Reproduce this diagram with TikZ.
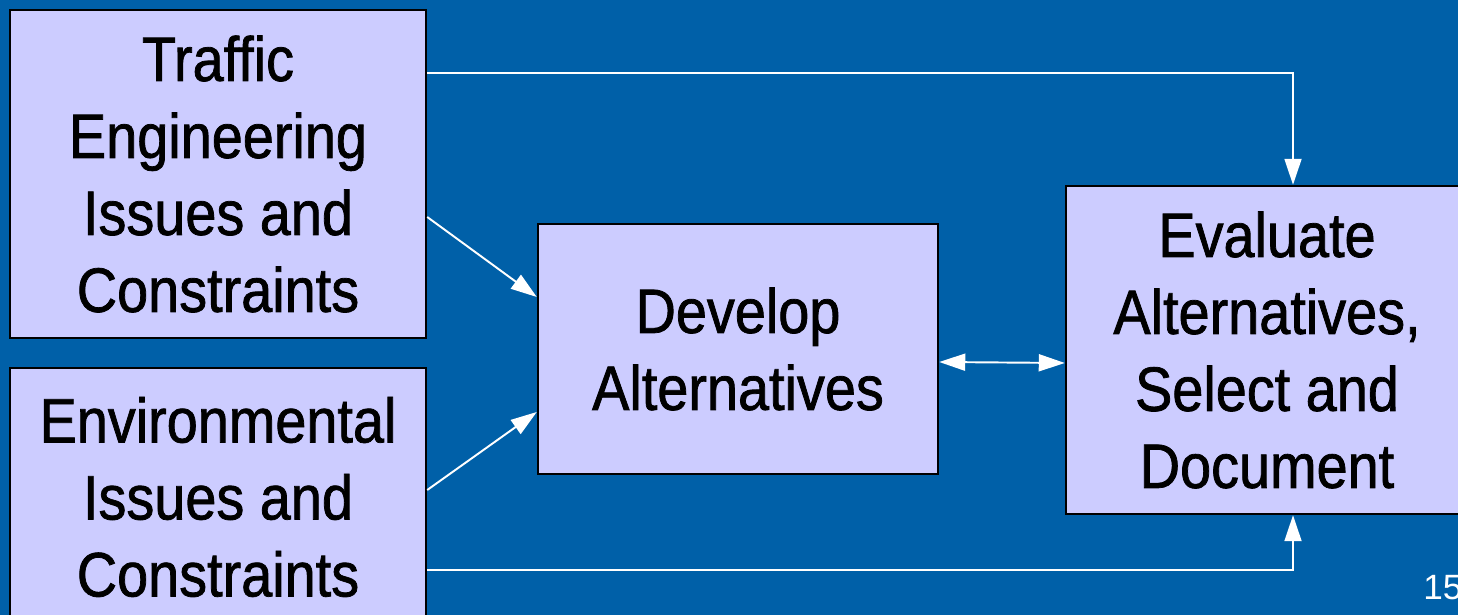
\documentclass[tikz,border=0pt]{standalone}
\usepackage{fontspec}
\setmainfont{Liberation Sans}[FakeStretch=0.89, FakeBold=1.2]
\newfontfamily\pagefont{Liberation Sans}
\usepackage{xcolor}
\usetikzlibrary{arrows.meta, positioning, calc}

\definecolor{slideblue}{RGB}{0,96,168}
\definecolor{boxlilac}{RGB}{204,204,255}

\begin{document}
\begin{tikzpicture}[
        >={Triangle[length=0.52cm, width=0.34cm]},
        box/.style={rectangle, draw=black, fill=boxlilac, line width=1.4pt, align=center, inner sep=0pt,
                    font=\fontsize{35.7}{43.8}\selectfont},
        line/.style={->, white, line width=1.1pt}
    ]

        % ================= FONDO =================
        \clip (0,0) rectangle (29.16,12.3);
        \fill[slideblue] (0,0) rectangle (29.16,12.3);

        % ================= CAJAS =================

        % Entradas
        \node[box, minimum width=8.32cm, minimum height=6.56cm] (traffic) at (4.36, 8.82)
            {Traffic\\Engineering\\Issues and\\Constraints};
        \node[box, minimum width=8.32cm, minimum height=5.16cm] (environ) at (4.36, 2.36)
            {Environmental\\Issues and\\Constraints};

        % Desarrollo
        \node[box, minimum width=8.0cm, minimum height=5.0cm] (develop) at (14.76, 5.32)
            {Develop\\Alternatives};

        % Evaluacion
        \node[box, minimum width=8.04cm, minimum height=6.56cm] (evaluate) at (25.34, 5.30)
            {Evaluate\\Alternatives,\\Select and\\Document};

        % ================= FLECHAS =================

        % Puntos de giro
        \coordinate (topturn) at (25.86, 10.84);
        \coordinate (botturn) at (25.86, 0.90);

        % Rodeos hacia la evaluacion
        \draw[line] (traffic.east |- topturn) -- (topturn) -- (topturn |- evaluate.north);
        \draw[line] (environ.east |- botturn) -- (botturn) -- (botturn |- evaluate.south);

        % Hacia el desarrollo
        \draw[line] ([yshift=-0.86cm]traffic.east) -- ([yshift=1.04cm]develop.west);
        \draw[line] ([yshift=0.14cm]environ.east) -- ([yshift=-1.26cm]develop.west);

        % Ida y vuelta
        \draw[line, <->] ([yshift=-0.26cm]develop.east) -- ([yshift=-0.26cm]evaluate.west);

        % ================= NUMERO =================
        \node[anchor=base west, inner sep=0pt, text=white, font=\pagefont\fontsize{20}{24}\selectfont] (pagenum)
            at (28.46, 0.30) {15};

    \end{tikzpicture}
\end{document}
